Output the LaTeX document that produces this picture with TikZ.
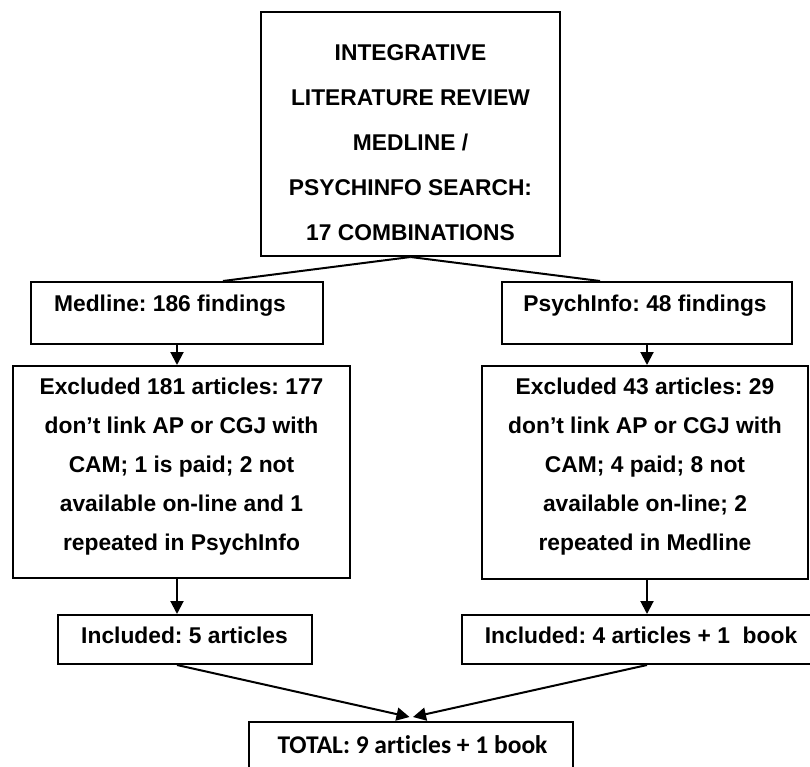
\documentclass[tikz,border=0pt]{standalone}
\usepackage{fontspec}
\setmainfont{Liberation Sans}
\newfontfamily\calib{Carlito}[Ligatures={NoCommon}]
\usetikzlibrary{arrows.meta}
\frenchspacing
\begin{document}
\begin{tikzpicture}[x=1pt,y=-1pt,
  box/.style={draw, line width=2pt, rectangle, inner sep=0pt},
  conn/.style={line width=2pt},
  arr/.style={line width=2pt, -{Triangle[length=13pt,width=13pt]}},
  txt/.style={font=\bfseries\fontsize{22.8}{38.8}\selectfont, align=center, inner sep=0pt},
  toptxt/.style={font=\bfseries\fontsize{22.8}{45}\selectfont, align=center, inner sep=0pt},
  tottxt/.style={font=\calib\bfseries\fontsize{25.5}{30}\selectfont, inner sep=0pt}]
\useasboundingbox (0,0) rectangle (810,767);
\clip (0,0) rectangle (810,767);
% boxes
\node[box, minimum width=299pt, minimum height=244pt] (top) at (410.5,134) {};
\node[box, minimum width=292pt, minimum height=62pt] (med) at (177,313) {};
\node[box, minimum width=290pt, minimum height=62pt] (psy) at (647,313) {};
\node[box, minimum width=337pt, minimum height=212pt] (exclL) at (181.5,472) {};
\node[box, minimum width=326pt, minimum height=213pt] (exclR) at (645,472.5) {};
\node[box, minimum width=254pt, minimum height=49pt] (inclL) at (185,639.5) {};
\node[box, minimum width=350pt, minimum height=49pt] (inclR) at (637,639.5) {};
\node[box, minimum width=324pt, minimum height=53pt] (tot) at (411,748.5) {};
% texts
\node[toptxt] (ttop) at (410.5,141.7) {\strut INTEGRATIVE\\\strut LITERATURE REVIEW\\\strut MEDLINE /\\\strut PSYCHINFO SEARCH:\\\strut 17 COMBINATIONS};
\node[txt, anchor=base] (tmed) at (170,311) {Medline: 186 findings};
\node[txt, anchor=base] (tpsy) at (645,311) {PsychInfo: 48 findings};
\node[txt] (texL) at (181.5,464.7) {\strut Excluded 181 articles: 177\\\strut don’t link AP or CGJ with\\\strut CAM; 1 is paid; 2 not\\\strut available on-line and 1\\\strut repeated in PsychInfo};
\node[txt] (texR) at (645,464.7) {\strut Excluded 43 articles: 29\\\strut don’t link AP or CGJ with\\\strut CAM; 4 paid; 8 not\\\strut available on-line; 2\\\strut repeated in Medline};
\node[txt, anchor=base] (tinL) at (184.5,643.3) {Included: 5 articles};
\node[txt, anchor=base] (tinR) at (641,643.3) {Included: 4 articles + 1\ \ book};
\node[tottxt, anchor=base] (ttot) at (412.5,753.3) {TOTAL: 9 articles + 1 book};
% connectors
\draw[conn] (top.south) -- ([xshift=46pt]med.north);
\draw[conn] (top.south) -- ([xshift=-47pt]psy.north);
\draw[arr] (med.south) -- (med.south |- exclL.north);
\draw[arr] (psy.south) -- (psy.south |- exclR.north);
\draw[arr] (exclL.south -| med.south) -- (inclL.north -| med.south);
\draw[arr] (exclR.south -| psy.south) -- (inclR.north -| psy.south);
\draw[arr] (inclL.south -| med.south) -- ([xshift=-1.5pt,yshift=4pt]tot.north);
\draw[arr] (inclR.south -| psy.south) -- ([xshift=2pt,yshift=4pt]tot.north);
\end{tikzpicture}
\end{document}
